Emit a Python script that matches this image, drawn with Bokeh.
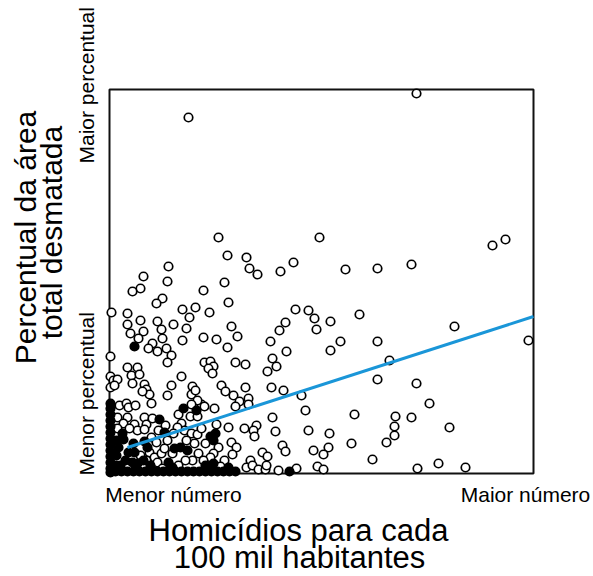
import math
from bokeh.plotting import figure
from bokeh.models import Range1d
from bokeh.core.properties import value
from bokeh.embed import file_html
from bokeh.resources import INLINE

# ---- data (arbitrary units: homicide rate index on x, deforested-area index on y) ----
open_x = [79, 307, 109, 210, 383, 396, 118, 137, 140, 148, 171, 184, 59, 34, 58, 236, 268, 302,
          115, 31, 23, 94, 53, 47, 119, 2, 18, 73, 86, 100, 80, 31, 48, 64, 18, 77, 52, 34, 21,
          53, 73, 94, 107, 122, 128, 118, 29, 43, 39, 48, 57, 62, 58, 1, 18, 28, 22, 30, 23, 1,
          4, 8, 1, 5, 35, 37, 40, 42, 33, 62, 58, 72, 95, 101, 104, 99, 103, 83, 82, 86, 92, 95,
          88, 82, 69, 81, 88, 105, 10, 17, 19, 26, 8, 18, 35, 112, 116, 124, 136, 130, 139, 139,
          126, 126, 136, 163, 167, 158, 162, 174, 192, 163, 196, 161, 177, 170, 176, 186, 199,
          205, 207, 250, 221, 231, 221, 268, 280, 268, 245, 345, 419, 307, 320, 286, 302, 285,
          285, 277, 340, 308, 329, 356, 263, 242, 219, 214, 204, 173, 176, 199, 220, 166, 147,
          144, 145, 135, 119, 107, 122, 127, 109, 123, 153, 158, 141, 137, 143, 149, 156, 157,
          169, 187, 208, 214, 104, 101, 14, 25, 37, 43, 28, 35, 42, 47, 40, 45, 48, 37, 52, 55,
          58, 63, 72, 75, 82, 88, 92, 85, 89, 83, 94, 68, 64, 56, 49, 76, 69, 53, 31, 20, 8, 96,
          115, 111, 77]
open_y = [356, 380, 236, 236, 228, 234, 218, 216, 205, 199, 202, 211, 207, 197, 192, 204, 205, 209,
          191, 185, 182, 183, 175, 170, 171, 161, 160, 164, 166, 161, 156, 153, 152, 149, 149, 145,
          144, 142, 140, 135, 133, 136, 134, 147, 137, 126, 135, 130, 125, 122, 125, 118, 111, 117,
          106, 106, 98, 99, 90, 97, 93, 94, 86, 88, 89, 84, 79, 70, 82, 88, 78, 97, 111, 112, 107,
          105, 100, 87, 79, 83, 69, 67, 73, 69, 59, 57, 57, 65, 68, 70, 66, 68, 56, 56, 56, 88, 82,
          78, 86, 72, 75, 69, 67, 111, 109, 115, 107, 102, 86, 83, 78, 56, 63, 132, 122, 143, 151,
          164, 163, 155, 144, 159, 152, 132, 123, 132, 113, 94, 59, 147, 133, 90, 70, 57, 56, 47,
          38, 31, 46, 5, 10, 6, 14, 30, 26, 19, 23, 28, 22, 43, 40, 42, 48, 43, 37, 45, 46, 49, 31,
          26, 26, 19, 21, 17, 13, 6, 8, 4, 4, 8, 3, 5, 7, 4, 20, 16, 50, 49, 49, 55, 43, 44, 36, 31,
          21, 16, 11, 13, 20, 25, 33, 20, 50, 43, 40, 39, 45, 30, 20, 13, 13, 46, 40, 48, 43, 13, 8,
          5, 18, 45, 45, 30, 13, 7, 33]

filled_x = [25, 50, 55, 74, 87, 13, 14, 24, 25, 35, 38, 65, 71, 78, 101, 106, 104, 16, 23, 28, 34,
            59, 63, 119, 180,
            1, 1, 1, 1, 1, 1, 1, 1, 1, 1, 1, 1, 1,
            7, 7, 7,
            6, 12, 18, 24, 30, 36, 42, 48, 54, 60, 66, 72, 78, 84, 90, 96, 102, 108, 114, 120, 126,
            9, 19, 11, 41, 96, 104]
filled_y = [127, 54, 41, 65, 63, 40, 34, 30, 21, 32, 26, 25, 26, 23, 37, 40, 33, 13, 11, 10, 13,
            11, 6, 6, 2,
            70, 65, 59, 53, 47, 41, 35, 29, 23, 17, 11, 5, 1,
            33, 18, 8,
            2, 2, 2, 2, 2, 2, 2, 2, 2, 2, 2, 2, 2, 2, 2, 2, 2, 2, 2, 2, 2,
            26, 21, 8, 8, 8, 10]

trend_x = [18, 424]
trend_y = [26, 157]

# extent of the plotted data window (the boxed area)
x_lo, x_hi = 0, 424
y_lo, y_hi = 0, 384

x_min_label = "Menor número"
x_max_label = "Maior número"
y_min_label = "Menor percentual"
y_max_label = "Maior percentual"
x_title = ["Homicídios para cada", "100 mil habitantes"]
y_title = ["Percentual da área", "total desmatada"]

FONT = "Liberation Sans"

# whole canvas is the drawing area; the boxed data window is drawn explicitly
p = figure(width=593, height=576, x_range=Range1d(-109, 484), y_range=Range1d(-103, 473),
           x_axis_type=None, y_axis_type=None, output_backend="svg", toolbar_location=None,
           min_border=0)
p.grid.visible = False
p.outline_line_color = None
p.background_fill_color = "white"
p.border_fill_color = "white"

p.quad(left=[x_lo], right=[x_hi], bottom=[y_lo], top=[y_hi], fill_color=None,
       line_color="#111111", line_width=2)

p.scatter(x=open_x, y=open_y, marker="circle", size=8.5, fill_color="white",
          line_color="black", line_width=1.7)
p.scatter(x=filled_x, y=filled_y, marker="circle", size=8.5, fill_color="black",
          line_color="black", line_width=1.7)
p.line(x=trend_x, y=trend_y, line_color="#1A96D8", line_width=3)

def lab(x, y, text, size, align="center", angle=0.0):
    p.text(x=[x], y=[y], text=[text], angle=angle, text_font=value(FONT),
           text_font_size=value(size), text_align=align, text_baseline="alphabetic",
           text_color="black")

lab(64, -21, x_min_label, "21px")
lab(416, -21, x_max_label, "21px")
lab(-23, -2, y_min_label, "21px", align="left", angle=math.pi / 2)
lab(-23, 310, y_max_label, "21px", align="left", angle=math.pi / 2)

lab(189, -57, x_title[0], "31px")
lab(190, -84, x_title[1], "31px")
lab(-84, 236, y_title[0], "30px", angle=math.pi / 2)
lab(-58, 241, y_title[1], "30px", angle=math.pi / 2)

open("out.html", "w").write(file_html(p, INLINE))
